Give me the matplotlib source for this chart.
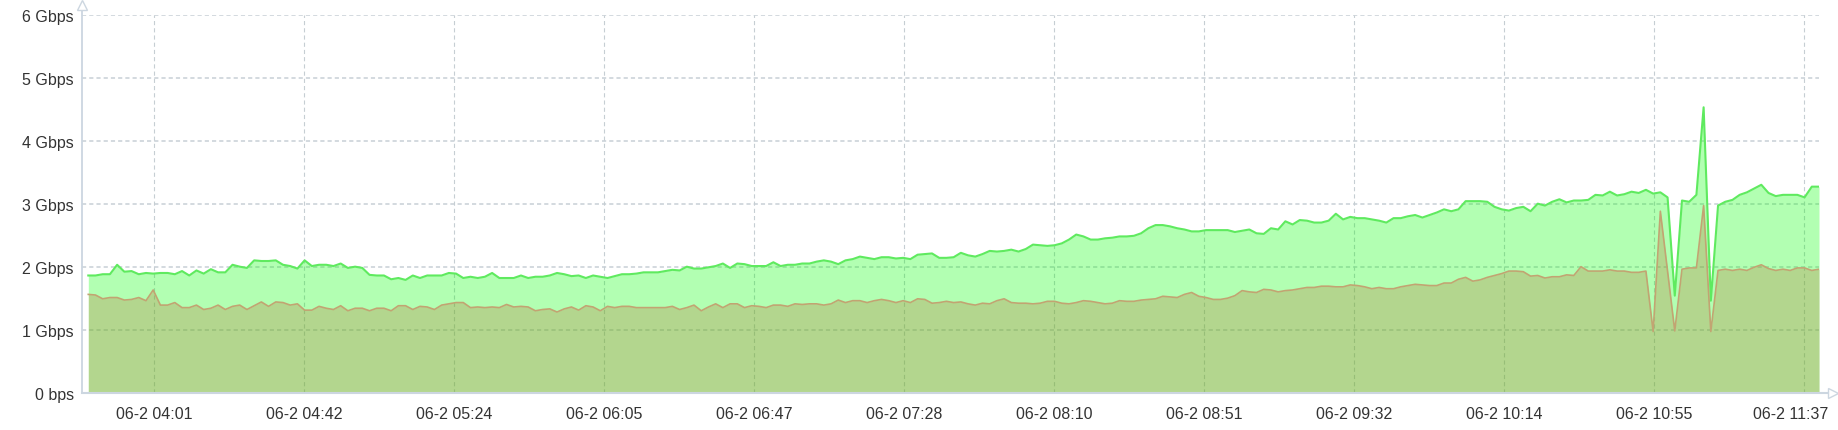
import numpy as np
import matplotlib
matplotlib.use("Agg")
import matplotlib.pyplot as plt
from matplotlib.transforms import ScaledTranslation

plt.rcParams['font.family'] = ['Liberation Sans', 'DejaVu Sans']
plt.rcParams['lines.scale_dashes'] = False

# ---- data (Gbps), one sample every ~2 minutes from 03:42:44 ----
start_min = 222.74          # 03:42:44 in minutes of the day
step_min = 1.9951           # sampling interval (minutes)

outbound = [
    1.87, 1.87, 1.89, 1.89, 2.04, 1.93, 1.94, 1.89, 1.91, 1.90,
    1.91, 1.91, 1.89, 1.94, 1.87, 1.95, 1.90, 1.97, 1.92, 1.92,
    2.04, 2.01, 1.99, 2.11, 2.10, 2.10, 2.11, 2.04, 2.02, 1.98,
    2.11, 2.02, 2.04, 2.04, 2.02, 2.06, 1.99,
    2.01, 1.99, 1.88, 1.87, 1.87, 1.81, 1.83, 1.80, 1.87, 1.83,
    1.87, 1.87, 1.87, 1.91, 1.90, 1.83, 1.85, 1.83, 1.85, 1.91,
    1.83, 1.83, 1.83, 1.87, 1.83, 1.85, 1.85, 1.87, 1.91, 1.89,
    1.86, 1.87, 1.83, 1.87, 1.85, 1.83,
    1.86, 1.89, 1.89, 1.90, 1.92, 1.92, 1.92, 1.94, 1.96, 1.95,
    2.01, 1.98, 1.98, 2.00, 2.02, 2.06, 1.99, 2.06, 2.05, 2.02,
    2.02, 2.02, 2.08, 2.02, 2.04, 2.04, 2.06, 2.06, 2.09, 2.11,
    2.09, 2.05, 2.11, 2.13, 2.17, 2.15,
    2.13, 2.16, 2.16, 2.14, 2.15, 2.13, 2.20, 2.21, 2.22, 2.15,
    2.15, 2.16, 2.23, 2.19, 2.17, 2.21, 2.26, 2.25, 2.26, 2.28,
    2.25, 2.29, 2.36, 2.35, 2.34, 2.35, 2.38, 2.44, 2.52, 2.49,
    2.44, 2.44, 2.46, 2.47, 2.49, 2.49,
    2.50, 2.54, 2.62, 2.67, 2.67, 2.65, 2.62, 2.60, 2.57, 2.57,
    2.59, 2.59, 2.59, 2.59, 2.56, 2.58, 2.60, 2.54, 2.53, 2.62,
    2.60, 2.73, 2.68, 2.75, 2.74, 2.71, 2.71, 2.74, 2.85, 2.76,
    2.80, 2.78, 2.78, 2.76, 2.74, 2.71,
    2.78, 2.78, 2.81, 2.83, 2.79, 2.83, 2.87, 2.92, 2.89, 2.92,
    3.05, 3.05, 3.05, 3.04, 2.96, 2.92, 2.90, 2.94, 2.96, 2.89,
    3.01, 2.98, 3.04, 3.08, 3.03, 3.06, 3.06, 3.07, 3.15, 3.14,
    3.20, 3.14, 3.16, 3.20, 3.18, 3.23,
    3.17, 3.19, 3.11, 1.55, 3.06, 3.04, 3.15, 4.54, 1.47, 2.98,
    3.04, 3.07, 3.15, 3.19, 3.25, 3.31, 3.18, 3.13, 3.15, 3.15,
    3.15, 3.11, 3.28, 3.28,
]

inbound = [
    1.57, 1.56, 1.50, 1.52, 1.52, 1.48, 1.49, 1.52, 1.47, 1.64,
    1.40, 1.40, 1.44, 1.36, 1.36, 1.40, 1.33, 1.35, 1.40, 1.33,
    1.38, 1.40, 1.33, 1.39, 1.45, 1.38, 1.45, 1.44, 1.40, 1.42,
    1.32, 1.32, 1.38, 1.35, 1.33, 1.39, 1.31,
    1.35, 1.35, 1.31, 1.35, 1.35, 1.31, 1.39, 1.39, 1.33, 1.38,
    1.37, 1.33, 1.40, 1.42, 1.44, 1.44, 1.36, 1.37, 1.36, 1.37,
    1.36, 1.41, 1.37, 1.38, 1.37, 1.31, 1.33, 1.34, 1.29, 1.34,
    1.37, 1.32, 1.39, 1.37, 1.31, 1.38,
    1.36, 1.38, 1.38, 1.36, 1.36, 1.36, 1.36, 1.36, 1.38, 1.33,
    1.36, 1.40, 1.31, 1.37, 1.42, 1.36, 1.42, 1.42, 1.36, 1.39,
    1.38, 1.36, 1.40, 1.40, 1.38, 1.42, 1.41, 1.42, 1.42, 1.40,
    1.42, 1.48, 1.44, 1.47, 1.47, 1.44,
    1.47, 1.49, 1.47, 1.44, 1.47, 1.44, 1.50, 1.49, 1.43, 1.44,
    1.46, 1.44, 1.45, 1.42, 1.40, 1.43, 1.42, 1.47, 1.50, 1.44,
    1.43, 1.43, 1.42, 1.43, 1.46, 1.46, 1.43, 1.42, 1.44, 1.47,
    1.46, 1.44, 1.42, 1.43, 1.47, 1.46,
    1.46, 1.48, 1.49, 1.50, 1.54, 1.53, 1.52, 1.57, 1.60, 1.54,
    1.52, 1.49, 1.49, 1.51, 1.55, 1.63, 1.61, 1.60, 1.65, 1.64,
    1.61, 1.63, 1.64, 1.66, 1.68, 1.68, 1.70, 1.70, 1.69, 1.69,
    1.72, 1.71, 1.69, 1.66, 1.68, 1.66,
    1.66, 1.69, 1.71, 1.73, 1.72, 1.71, 1.71, 1.75, 1.75, 1.81,
    1.84, 1.78, 1.80, 1.84, 1.87, 1.90, 1.94, 1.94, 1.93, 1.86,
    1.87, 1.83, 1.85, 1.85, 1.88, 1.87, 2.01, 1.94, 1.94, 1.94,
    1.96, 1.94, 1.94, 1.92, 1.92, 1.94,
    0.98, 2.89, 1.94, 0.99, 1.97, 1.99, 1.99, 2.98, 0.98, 1.95,
    1.97, 1.95, 1.97, 1.95, 2.00, 2.04, 1.98, 1.95, 1.97, 1.95,
    1.99, 1.99, 1.95, 1.97,
]

x_tick_labels = ['06-2 04:01', '06-2 04:42', '06-2 05:24', '06-2 06:05',
                 '06-2 06:47', '06-2 07:28', '06-2 08:10', '06-2 08:51',
                 '06-2 09:32', '06-2 10:14', '06-2 10:55', '06-2 11:37']
first_tick_min = 241.0      # 04:01
tick_interval_min = 41.5

y_tick_values = [0, 1, 2, 3, 4, 5, 6]
y_tick_labels = ['0 bps', '1 Gbps', '2 Gbps', '3 Gbps', '4 Gbps', '5 Gbps', '6 Gbps']

# ---- derived positions ----
n = len(outbound)
times = start_min + np.arange(n) * step_min
tick_pos = first_tick_min + np.arange(len(x_tick_labels)) * tick_interval_min

W, H = 1838, 431
fig = plt.figure(figsize=(W / 100, H / 100), dpi=100)
left_px, right_px, top_px, bottom_px = 82, 1819, 16.3, 394.3
ax = fig.add_axes([left_px / W, (H - bottom_px) / H,
                   (right_px - left_px) / W, (bottom_px - top_px) / H])

ax.set_xlim(times[0] - 1.74, times[-1])
ax.set_ylim(0, 6)

# grid
ax.set_axisbelow(True)
for v in y_tick_values[1:]:
    ax.axhline(v, color='#C8CFD6', lw=1.1, linestyle=(0, (3.0, 2.2)), zorder=0)
for t in tick_pos:
    ax.axvline(t, color='#C6CED3', lw=0.8, linestyle=(0, (3.0, 2.2)), zorder=0)

# areas
ax.fill_between(times, 0, outbound, color=(0.0, 1.0, 0.0), alpha=0.30, lw=0, zorder=1)
ax.plot(times, outbound, color='#5FEA5F', lw=1.5, zorder=3)
ax.fill_between(times, 0, inbound, color=(0.714, 0.478, 0.231), alpha=0.30, lw=0, zorder=2)
ax.plot(times, inbound, color='#C2A472', lw=1.2, zorder=4)

# ticks
ax.set_xticks(tick_pos)
ax.set_xticklabels(x_tick_labels)
ax.set_yticks(y_tick_values)
ax.set_yticklabels(y_tick_labels)
ax.tick_params(axis='both', length=0, labelsize=11.5, labelcolor='#333333')
ax.tick_params(axis='x', pad=9)
ax.tick_params(axis='y', pad=5.8)

# keep the last x label inside the figure (right edge ~24 px past its tick)
last = ax.get_xticklabels()[-1]
last.set_horizontalalignment('right')
last.set_transform(last.get_transform() + ScaledTranslation(0.24, 0, fig.dpi_scale_trans))

# spines & arrows
for s in ['top', 'right', 'left', 'bottom']:
    ax.spines[s].set_visible(False)
axis_col = '#CCD6E0'
ax.plot([0, 0], [0, 1.02], transform=ax.transAxes, color=axis_col, lw=1.3,
        clip_on=False, zorder=5)
ax.plot([0, 1.0058], [0, 0], transform=ax.transAxes, color=axis_col, lw=1.5,
        clip_on=False, zorder=5)
ax.plot([0], [1.028], transform=ax.transAxes, marker='^', ms=7.5,
        markerfacecolor='white', markeredgecolor=axis_col, mew=1.0,
        clip_on=False, zorder=6)
ax.plot([1.0078], [0], transform=ax.transAxes, marker='>', ms=7.5,
        markerfacecolor='white', markeredgecolor=axis_col, mew=1.0,
        clip_on=False, zorder=6)

fig.savefig('out.png', dpi=100)
